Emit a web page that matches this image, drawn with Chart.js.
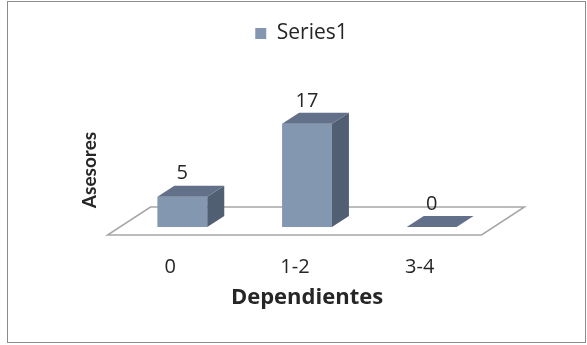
<!DOCTYPE html>
<html>
<head>
<meta charset="utf-8">
<script src="https://cdn.jsdelivr.net/npm/chart.js@4.4.1/dist/chart.umd.min.js"></script>
<style>
  html, body { margin: 0; padding: 0; background: #fff; }
</style>
</head>
<body>
<canvas id="myChart" width="587" height="345"></canvas>
<script>
// x-axis categories
const categories = ["0", "1-2", "3-4"];
// values of the single series
const series1 = [5, 17, 0];
const seriesName = "Series1";
const xTitle = "Dependientes";
const yTitle = "Asesores";

const frontColor = "#8497b0";
const topColor = "#627189";
const sideColor = "#515f73";
const textColor = "#262626";

// fake 3d depth for the bars and the floor
const barDepth = { dx: 17, dy: -11 };
const floorFront = { dx: -12.5, dy: 8 };
const floorBack = { dx: 30.5, dy: -20 };

const threeD = {
  id: "threeD",
  beforeDraw(chart) {
    const ctx = chart.ctx;
    ctx.save();
    ctx.fillStyle = "#fff";
    ctx.fillRect(0, 0, chart.width, chart.height);
    ctx.strokeStyle = "#8c8c8c";
    ctx.lineWidth = 1;
    ctx.strokeRect(7.5, 1.5, 578, 341);
    ctx.restore();
  },
  beforeDatasetsDraw(chart) {
    const { ctx, chartArea: a } = chart;
    // floor
    ctx.save();
    ctx.beginPath();
    ctx.moveTo(a.left + floorFront.dx, a.bottom + floorFront.dy);
    ctx.lineTo(a.right + floorFront.dx, a.bottom + floorFront.dy);
    ctx.lineTo(a.right + floorBack.dx, a.bottom + floorBack.dy);
    ctx.lineTo(a.left + floorBack.dx, a.bottom + floorBack.dy);
    ctx.closePath();
    ctx.fillStyle = "#fff";
    ctx.fill();
    ctx.strokeStyle = "#a6a6a6";
    ctx.lineWidth = 1.5;
    ctx.stroke();
    ctx.restore();
  },
  afterDatasetsDraw(chart) {
    const ctx = chart.ctx;
    const meta = chart.getDatasetMeta(0);
    const { dx, dy } = barDepth;
    ctx.save();
    meta.data.forEach((bar, i) => {
      const l = bar.x - bar.width / 2;
      const r = bar.x + bar.width / 2;
      const t = bar.y;
      const b = bar.base;
      // side face
      if (b - t > 0.5) {
        ctx.beginPath();
        ctx.moveTo(r, t);
        ctx.lineTo(r + dx, t + dy);
        ctx.lineTo(r + dx, b + dy);
        ctx.lineTo(r, b);
        ctx.closePath();
        ctx.fillStyle = sideColor;
        ctx.fill();
      }
      // top face
      ctx.beginPath();
      ctx.moveTo(l, t);
      ctx.lineTo(l + dx, t + dy);
      ctx.lineTo(r + dx, t + dy);
      ctx.lineTo(r, t);
      ctx.closePath();
      ctx.fillStyle = topColor;
      ctx.fill();
      // value label
      ctx.fillStyle = textColor;
      ctx.font = "20px 'Open Sans'";
      ctx.textAlign = "center";
      ctx.textBaseline = "middle";
      ctx.fillText(series1[i], bar.x, t + dy - 12);
    });
    ctx.restore();
  },
  afterDraw(chart) {
    // y axis title, sits lower than the chart area centre in the original
    const ctx = chart.ctx;
    const a = chart.chartArea;
    ctx.save();
    ctx.translate(a.left - 30, a.bottom - 57);
    ctx.rotate(-Math.PI / 2);
    ctx.fillStyle = textColor;
    ctx.font = "bold 19px Lato";
    ctx.textAlign = "center";
    ctx.textBaseline = "middle";
    ctx.fillText(yTitle, 0, 0);
    ctx.restore();
  }
};

const ctx = document.getElementById("myChart").getContext("2d");
const myChart = new Chart(ctx, {
  type: "bar",
  data: {
    labels: categories,
    datasets: [
      {
        label: seriesName,
        data: series1,
        backgroundColor: frontColor,
        barPercentage: 0.4,
        categoryPercentage: 1,
      },
    ],
  },
  options: {
    responsive: false,
    animation: false,
    layout: { padding: { top: 13, left: 109, right: 93, bottom: 30 } },
    plugins: {
      legend: {
        position: "top",
        labels: {
          boxWidth: 11,
          boxHeight: 11,
          color: textColor,
          padding: 10,
          font: { family: "Open Sans", size: 21 },
        },
      },
      tooltip: { enabled: false },
    },
    scales: {
      x: {
        grid: { display: false, drawTicks: false },
        border: { display: false },
        ticks: {
          color: textColor,
          padding: 28,
          labelOffset: -12,
          font: { family: "Open Sans", size: 20 },
        },
        title: {
          display: true,
          text: xTitle,
          color: textColor,
          font: { family: "Open Sans", size: 22, weight: "bold" },
        },
        afterFit(scale) {
          scale.height = 88;
        },
      },
      y: {
        min: 0,
        max: 28.5,
        grid: { display: false },
        border: { display: false },
        ticks: { display: false },
        afterFit(scale) {
          scale.width = 11;
        },
      },
    },
  },
  plugins: [threeD],
});
</script>
</body>
</html>
